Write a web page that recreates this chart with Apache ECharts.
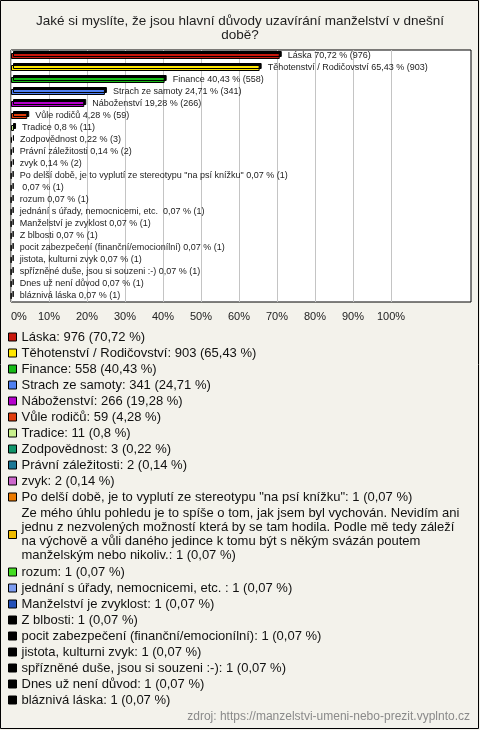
<!DOCTYPE html>
<html>
<head>
<meta charset="utf-8">
<script src="https://cdn.jsdelivr.net/npm/echarts@6/dist/echarts.min.js"></script>
<style>
html,body{margin:0;padding:0;background:#f3f2eb;}
#main{width:480px;height:730px;}
</style>
</head>
<body>
<div id="main"></div>
<script>
// ---- data ----
const titleText = 'Jaké si myslíte, že jsou hlavní důvody uzavírání manželství v dnešní\ndobě?';
const sourceText = 'zdroj: https://manzelstvi-umeni-nebo-prezit.vyplnto.cz';
const categories = [
  'Láska',
  'Těhotenství / Rodičovství',
  'Finance',
  'Strach ze samoty',
  'Náboženství',
  'Vůle rodičů',
  'Tradice',
  'Zodpovědnost',
  'Právní záležitosti',
  'zvyk',
  'Po delší době, je to vyplutí ze stereotypu "na psí knížku"',
  'Ze mého úhlu pohledu je to spíše o tom, jak jsem byl vychován. Nevidím ani jednu z nezvolených možností která by se tam hodila. Podle mě tedy záleží na výchově a vůli daného jedince k tomu být s někým svázán poutem manželským nebo nikoliv.',
  'rozum',
  'jednání s úřady, nemocnicemi, etc. ',
  'Manželství je zvyklost',
  'Z blbosti',
  'pocit zabezpečení (finanční/emocionílní)',
  'jistota, kulturni zvyk',
  'spřízněné duše, jsou si souzeni :-)',
  'Dnes už není důvod',
  'bláznivá láska'
];
// names shown next to the bars (the long answer is shown without its text)
const barLabels = categories.map((c, i) => i === 11 ? '' : c);
const counts = [976, 903, 558, 341, 266, 59, 11, 3, 2, 2, 1, 1, 1, 1, 1, 1, 1, 1, 1, 1, 1];
const percents = [70.72, 65.43, 40.43, 24.71, 19.28, 4.28, 0.8, 0.22, 0.14, 0.14, 0.07, 0.07, 0.07, 0.07, 0.07, 0.07, 0.07, 0.07, 0.07, 0.07, 0.07];
const xTicks = [0, 100, 10]; // min, max, interval
const colors = [
  '#c8170c', '#ffe600', '#17bb17', '#4f7ff0', '#b400cc', '#e03c0c', '#c8f08c',
  '#10956a', '#1a7896', '#cc66cc', '#ec7a00', '#efbb00', '#44dd22', '#7d9cf0',
  '#2350b8', '#000000', '#000000', '#000000', '#000000', '#000000', '#000000'
];

const fmt = v => String(v).replace('.', ',');
const FONT = 'Liberation Sans';

// simple word wrap for legend text
const measureCtx = document.createElement('canvas').getContext('2d');
function wrapText(text, font, maxW) {
  measureCtx.font = font;
  const words = text.split(' ');
  const lines = [];
  let cur = '';
  words.forEach(w => {
    const test = cur ? cur + ' ' + w : w;
    if (cur && measureCtx.measureText(test).width > maxW) {
      lines.push(cur);
      cur = w;
    } else {
      cur = test;
    }
  });
  if (cur) lines.push(cur);
  return lines.join('\n');
}

const chart = echarts.init(document.getElementById('main'), null, {renderer: 'canvas'});

const series = categories.map((name, i) => ({
  type: 'bar',
  name: name,
  xAxisIndex: 1,
  yAxisIndex: 1,
  stack: 'all',
  barWidth: 6,
  data: categories.map((c, j) => j === i ? percents[i] : '-'),
  itemStyle: {
    color: colors[i],
    borderColor: '#000',
    borderWidth: 1,
    shadowColor: '#000',
    shadowBlur: 0,
    shadowOffsetX: 2,
    shadowOffsetY: -2
  },
  label: {
    show: true,
    position: 'right',
    distance: 8,
    fontFamily: FONT,
    fontSize: 9,
    color: '#222',
    formatter: p => barLabels[p.dataIndex] + ' ' + fmt(percents[p.dataIndex]) + ' % (' + counts[p.dataIndex] + ')'
  },
  emphasis: {disabled: true},
  animation: false
}));

const option = {
  backgroundColor: '#f3f2eb',
  animation: false,
  textStyle: {fontFamily: FONT},
  title: [
    {
      text: titleText,
      left: 'center',
      top: 14,
      padding: 0,
      textStyle: {fontFamily: FONT, fontSize: 13.5, lineHeight: 14, fontWeight: 'normal', color: '#222'}
    },
    {
      text: sourceText,
      right: 10,
      top: 711,
      padding: 0,
      textStyle: {fontFamily: FONT, fontSize: 12, fontWeight: 'normal', color: '#8a8a8a'}
    }
  ],
  grid: [
    {left: 11, top: 50, width: 460, height: 252, show: true, backgroundColor: '#fff', borderColor: '#000', borderWidth: 1},
    {left: 11, top: 50, width: 380, height: 252, show: false}
  ],
  xAxis: [
    {gridIndex: 0, type: 'value', min: 0, max: 1, show: false},
    {
      gridIndex: 1, type: 'value', min: xTicks[0], max: xTicks[1], interval: xTicks[2],
      axisLine: {show: false}, axisTick: {show: false},
      splitLine: {show: true, lineStyle: {color: '#c4c4c4', width: 1}},
      axisLabel: {
        formatter: '{value}%', margin: 9, alignMinLabel: 'left',
        fontFamily: FONT, fontSize: 11, color: '#222'
      }
    }
  ],
  yAxis: [
    {gridIndex: 0, type: 'value', min: 0, max: 1, show: false},
    {
      gridIndex: 1, type: 'category', data: categories, inverse: true,
      axisLine: {show: false}, axisTick: {show: false}, axisLabel: {show: false},
      splitLine: {show: false}
    }
  ],
  legend: {
    orient: 'vertical',
    left: 8,
    top: 329,
    padding: 0,
    itemGap: 0,
    itemWidth: 8,
    itemHeight: 8,
    icon: 'rect',
    selectedMode: false,
    itemStyle: {borderColor: '#000', borderWidth: 1, shadowBlur: 0, shadowOffsetX: 0, shadowOffsetY: 0, shadowColor: 'rgba(0,0,0,0)'},
    textStyle: {fontFamily: FONT, fontSize: 13, lineHeight: 16, color: '#111'},
    data: categories.map((c, i) => i === 11
      ? {name: c, textStyle: {fontFamily: FONT, fontSize: 13, color: '#111', lineHeight: 14, padding: [0, 0, 3, 0]}}
      : {name: c}),
    formatter: name => {
      const i = categories.indexOf(name);
      const full = name + ': ' + counts[i] + ' (' + fmt(percents[i]) + ' %)';
      return wrapText(full, '13px "' + FONT + '"', 448);
    }
  },
  graphic: [
    {type: 'rect', shape: {x: 0.5, y: 0.5, width: 478, height: 728}, style: {fill: 'none', stroke: '#000', lineWidth: 1}, silent: true}
  ],
  series: series
};
chart.setOption(option);
</script>
</body>
</html>
